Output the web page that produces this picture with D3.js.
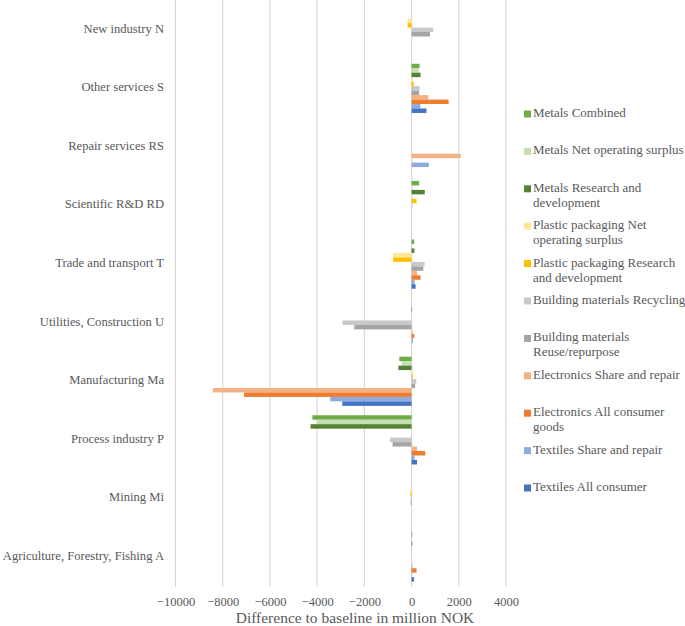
<!DOCTYPE html>
<html><head><meta charset="utf-8">
<script src="https://cdn.jsdelivr.net/npm/d3@7"></script>
<style>
body{margin:0;background:#fff;}
svg{display:block;}
text{font-family:"Liberation Serif","DejaVu Serif",serif;fill:#595959;}
</style></head>
<body>
<svg id="chart" width="685" height="626"></svg>
<script>
const categories = ["New industry N","Other services S","Repair services RS","Scientific R&D RD","Trade and transport T","Utilities, Construction U","Manufacturing Ma","Process industry P","Mining Mi","Agriculture, Forestry, Fishing A"];
const seriesNames = ["Metals Combined","Metals Net operating surplus","Metals Research and development","Plastic packaging Net operating surplus","Plastic packaging Research and development","Building materials Recycling","Building materials Reuse/repurpose","Electronics Share and repair","Electronics All consumer goods","Textiles Share and repair","Textiles All consumer"];
const seriesColors = ["#70AD47","#C5E0B4","#548235","#FFE699","#FFC000","#C9C9C9","#A5A5A5","#F4B183","#ED7D31","#8FAADC","#4472C4"];
// values per series, in category order above
const metalsCombined      = [0, 340, 0, 320, 110, 0, -520, -4200, 0, 30];
const metalsNOS           = [0, 300, 0, 0, 0, 0, -410, -4000, 0, 0];
const metalsRD            = [0, 380, 0, 560, 120, 20, -560, -4280, 0, 30];
const plasticNOS          = [-170, 30, 0, 0, -780, 0, 70, -20, -50, 0];
const plasticRD           = [-170, 90, 0, 210, -780, 0, 50, 0, -50, 0];
const buildingRecycling   = [920, 340, 0, 30, 550, -2920, 200, -915, -40, 0];
const buildingReuse       = [780, 320, 0, 0, 500, -2430, 150, -805, -40, 0];
const electronicsShare    = [0, 710, 2080, 0, 240, 40, -8415, 230, 0, 40];
const electronicsAll      = [0, 1570, 0, 0, 380, 110, -7100, 580, 0, 210];
const textilesShare       = [0, 370, 730, 0, 130, 60, -3445, 130, 0, 20];
const textilesAll         = [0, 630, 0, 0, 170, 0, -2936, 230, 0, 100];
const xTicks = [-10000,-8000,-6000,-4000,-2000,0,2000,4000];
const xTitle = "Difference to baseline in million NOK";

const seriesValues = [metalsCombined, metalsNOS, metalsRD, plasticNOS, plasticRD, buildingRecycling, buildingReuse, electronicsShare, electronicsAll, textilesShare, textilesAll];

const svg = d3.select("#chart");
const x = d3.scaleLinear().domain([-10000, 4000]).range([175.5, 506]);
const y = d3.scaleBand().domain(categories).range([0.5, 586.3]).padding(0);
const inner = d3.scaleBand().domain(d3.range(seriesNames.length))
  .range([y.bandwidth()*0.08, y.bandwidth()*0.92]).padding(0);

// gridlines
svg.append("g").selectAll("line").data(xTicks).join("line")
  .attr("x1", d => x(d)).attr("x2", d => x(d))
  .attr("y1", 0).attr("y2", 587)
  .attr("stroke", "#D9D9D9").attr("stroke-width", 1.2);

// bars
const gCat = svg.append("g").selectAll("g").data(categories).join("g")
  .attr("transform", d => `translate(0,${y(d)})`);
gCat.selectAll("rect").data((c, ci) => seriesValues.map((vals, si) => ({si, v: vals[ci]})))
  .join("rect")
  .attr("x", d => Math.min(x(0), x(d.v)))
  .attr("width", d => Math.abs(x(d.v) - x(0)))
  .attr("y", d => inner(d.si))
  .attr("height", inner.bandwidth())
  .attr("fill", d => seriesColors[d.si]);

// category labels
svg.append("g").selectAll("text").data(categories).join("text")
  .attr("x", 164).attr("y", d => y(d) + y.bandwidth()/2)
  .attr("text-anchor", "end").attr("dominant-baseline", "middle")
  .attr("font-size", "12.6px").text(d => d);

// x axis labels
const xAxis = d3.axisBottom(x).tickValues(xTicks).tickSize(0).tickPadding(0).tickFormat(d3.format("d"));
const ax = svg.append("g").attr("transform", "translate(0,597)").call(xAxis);
ax.select(".domain").remove();
ax.selectAll("text").attr("font-size", "12.5px").attr("font-family", '"Liberation Serif","DejaVu Serif",serif').attr("fill", "#595959").attr("dy", "0.71em");

svg.append("text").attr("x", 355).attr("y", 623).attr("text-anchor", "middle")
  .attr("font-size", "15.5px").text(xTitle);

// legend
const legend = svg.append("g");
const maxW = 159;
seriesNames.forEach((name, i) => {
  const gy = 114 + i*37.4;
  const g = legend.append("g");
  g.append("rect").attr("x", 524).attr("y", gy - 3.5).attr("width", 7).attr("height", 7).attr("fill", seriesColors[i]);
  const t = g.append("text").attr("x", 533).attr("y", gy).attr("dominant-baseline", "middle").attr("font-size", "13px");
  const words = name.split(" ");
  let line = [];
  let ts = t.append("tspan").attr("x", 533).attr("dy", 0);
  words.forEach(w => {
    line.push(w);
    ts.text(line.join(" "));
    if (ts.node().getComputedTextLength() > maxW && line.length > 1) {
      line.pop(); ts.text(line.join(" "));
      line = [w];
      ts = t.append("tspan").attr("x", 533).attr("dy", "15").text(w);
    }
  });
});
</script>
</body></html>
